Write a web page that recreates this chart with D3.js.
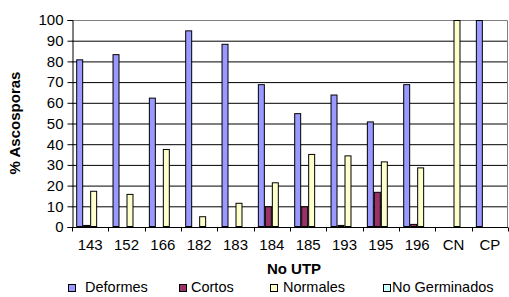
<!DOCTYPE html>
<html><head><meta charset="utf-8">
<script src="https://cdn.jsdelivr.net/npm/d3@7/dist/d3.min.js"></script>
<style>body{margin:0;background:#fff}svg{display:block;font-family:"Liberation Sans",Arial,sans-serif}</style>
</head><body><svg id="c" width="509" height="297"></svg>
<script>
const categories = ["143","152","166","182","183","184","185","193","195","196","CN","CP"];
const seriesNames = ["Deformes","Cortos","Normales","No Germinados"];
const deformes = [81,83.5,62.5,95,88.5,69,55,64,51,69,0,100];
const cortos = [1,0,0,0,0,10,10,1,17,1.5,0,0];
const normales = [17.5,16,37.7,5.2,11.7,21.6,35.3,34.6,31.7,28.8,100,0];
const noGerminados = [0,0,0,0,0,0,0,0,0,0,0,0];
const yTicks = [0,10,20,30,40,50,60,70,80,90,100];
const colors = ["#9999FF","#993366","#FFFFCC","#CCFFFF"];
const series = [deformes,cortos,normales,noGerminados];

const svg = d3.select("#c");
const L=72,R=508,T=20,B=227;
const x = d3.scaleBand().domain(categories).range([L,R]);
const xi = d3.scaleBand().domain(seriesNames).range([0,x.bandwidth()]).paddingOuter(0.6);
const y = d3.scaleLinear().domain([0,100]).range([B,T]);

// gridlines
svg.append("g").selectAll("line").data(yTicks.filter(t=>t>0&&t<100)).join("line")
  .attr("x1",L).attr("x2",R).attr("y1",d=>y(d)+0.5).attr("y2",d=>y(d)+0.5)
  .attr("stroke","#000").attr("stroke-width",1);
// plot border top/right
svg.append("path").attr("d",`M${L},${T+0.5}H${R-0.5}V${B}`).attr("fill","none").attr("stroke","#808080");

// bars
const g = svg.append("g");
series.forEach((vals,si)=>{
  g.selectAll(null).data(categories.map((c,i)=>({c,v:vals[i]})).filter(d=>d.v>0)).join("rect")
    .attr("x",d=>x(d.c)+xi(seriesNames[si])+0.5)
    .attr("y",d=>y(d.v)+0.5)
    .attr("width",xi.bandwidth()-1)
    .attr("height",d=>Math.max(0,y(0)-y(d.v)-1))
    .attr("fill",colors[si]).attr("stroke","#000").attr("stroke-width",1);
});

// y axis
const ya = svg.append("g").attr("transform",`translate(${L+0.5},0)`)
  .call(d3.axisLeft(y).tickValues(yTicks).tickSize(5).tickPadding(4));
ya.selectAll("text").attr("font-size",15).attr("fill","#000").attr("font-family","Liberation Sans, Arial, sans-serif");
ya.selectAll("line").attr("stroke","#000");
ya.select(".domain").attr("stroke","#000");

// x axis
const xa = svg.append("g").attr("transform",`translate(0,${B+0.5})`)
  .call(d3.axisBottom(x).tickSize(0).tickPadding(12));
xa.selectAll("text").attr("font-size",15).attr("fill","#000").attr("font-family","Liberation Sans, Arial, sans-serif");
xa.select(".domain").attr("stroke","#000").attr("d",`M${L},0H${R}`);
xa.append("g").selectAll("line").data(categories.concat(["end"])).join("line")
  .attr("x1",(d,i)=>Math.round(L+i*x.step())+0.5).attr("x2",(d,i)=>Math.round(L+i*x.step())+0.5)
  .attr("y1",0).attr("y2",4).attr("stroke","#000");

// titles
svg.append("text").attr("transform","translate(20,123) rotate(-90)").attr("text-anchor","middle")
  .attr("font-size",15).attr("font-weight","bold").text("% Ascosporas");
svg.append("text").attr("x",294).attr("y",274).attr("text-anchor","middle")
  .attr("font-size",15).attr("font-weight","bold").text("No UTP");

// legend
const legX = [68,179,270,383];
const legT = [85,191,283,392];
const leg = svg.append("g");
seriesNames.forEach((n,i)=>{
  leg.append("rect").attr("x",legX[i]+0.5).attr("y",284.5).attr("width",7).attr("height",7)
    .attr("fill",colors[i]).attr("stroke","#000");
  leg.append("text").attr("x",legT[i]).attr("y",292).attr("font-size",14.5).text(n);
});
</script></body></html>
